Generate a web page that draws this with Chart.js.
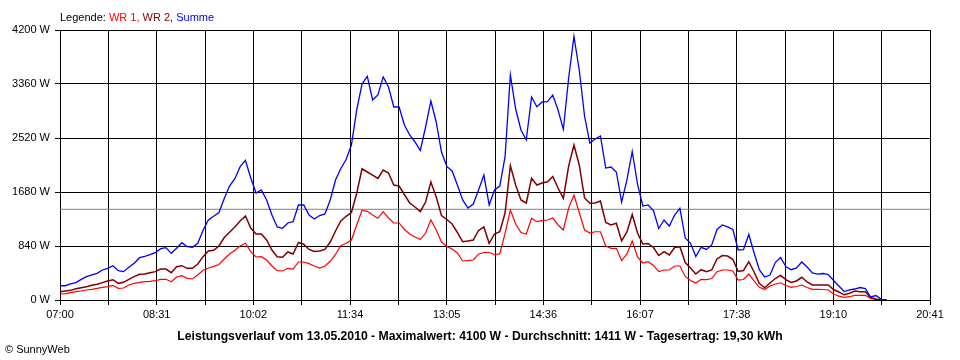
<!DOCTYPE html>
<html>
<head>
<meta charset="utf-8">
<script src="https://cdn.jsdelivr.net/npm/chart.js@4"></script>
<style>
body { margin: 0; background: #fff; }
#wrap { position: relative; width: 960px; height: 360px; font-family: "Liberation Sans", Arial, sans-serif; color: #000; }
#chart { position: absolute; left: 0; top: 0; }
.leg { position: absolute; left: 60px; top: 11px; font-size: 11px; line-height: 13px; }
.tit { position: absolute; left: 0; width: 960px; top: 329px; text-align: center; font-size: 12.2px; font-weight: bold; line-height: 14px; }
.copy { position: absolute; left: 5px; top: 343px; font-size: 11px; line-height: 13px; }
</style>
</head>
<body>
<div id="wrap">
  <canvas id="chart" width="960" height="360"></canvas>
  <div class="leg">Legende: <span style="color:#ff0000">WR 1,</span> <span style="color:#800000">WR 2,</span> <span style="color:#0000ff">Summe</span></div>
  <div class="tit">Leistungsverlauf vom 13.05.2010 - Maximalwert: 4100 W - Durchschnitt: 1411 W - Tagesertrag: 19,30 kWh</div>
  <div class="copy">&copy; SunnyWeb</div>
</div>
<script>
// Messzeitpunkte (5-Minuten-Raster)
var zeit = [
 "07:00","07:05","07:10","07:15","07:20","07:25","07:30","07:35","07:40","07:45","07:50","07:55",
 "08:00","08:05","08:10","08:15","08:20","08:25","08:30","08:35","08:40","08:45","08:50","08:55",
 "09:00","09:05","09:10","09:15","09:20","09:25","09:30","09:35","09:40","09:45","09:50","09:55",
 "10:00","10:05","10:10","10:15","10:20","10:25","10:30","10:35","10:40","10:45","10:50","10:55",
 "11:00","11:05","11:10","11:15","11:20","11:25","11:30","11:35","11:40","11:45","11:50","11:55",
 "12:00","12:05","12:10","12:15","12:20","12:25","12:30","12:35","12:40","12:45","12:50","12:55",
 "13:00","13:05","13:10","13:15","13:20","13:25","13:30","13:35","13:40","13:45","13:50","13:55",
 "14:00","14:05","14:10","14:15","14:20","14:25","14:30","14:35","14:40","14:45","14:50","14:55",
 "15:00","15:05","15:10","15:15","15:20","15:25","15:30","15:35","15:40","15:45","15:50","15:55",
 "16:00","16:05","16:10","16:15","16:20","16:25","16:30","16:35","16:40","16:45","16:50","16:55",
 "17:00","17:05","17:10","17:15","17:20","17:25","17:30","17:35","17:40","17:45","17:50","17:55",
 "18:00","18:05","18:10","18:15","18:20","18:25","18:30","18:35","18:40","18:45","18:50","18:55",
 "19:00","19:05","19:10","19:15","19:20","19:25","19:30","19:35","19:40","19:45","19:50","19:55",
 "20:00"];

// Leistung in W
var wr1 = [
 93,98,114,129,140,156,166,182,197,207,228,182,187,233,259,275,285,291,300,322,322,285,358,378,337,327,389,
 462,498,524,552,638,716,775,840,882,752,669,674,622,529,456,451,493,482,591,591,565,529,498,529,602,708,
 843,882,933,1167,1392,1380,1322,1271,1374,1276,1198,1198,1097,1027,980,941,1042,1244,1089,902,832,793,731,607,614,622,
 716,739,739,708,716,1037,1400,1182,1050,1027,1271,1218,1234,1244,1276,1167,1089,1431,1633,1361,1089,1042,1062,1062,840,804,804,
 614,716,918,669,576,596,537,443,467,467,529,529,366,303,264,322,316,334,440,467,467,451,311,319,404,296,
 198,163,218,249,268,226,198,210,233,194,166,166,163,156,93,59,42,51,73,73,73,26,11,0,0];

var wr2 = [
 129,140,150,176,192,207,228,244,270,296,316,259,275,321,363,399,404,425,441,482,482,425,518,534,493,493,560,
 674,762,773,840,972,1053,1136,1229,1307,1120,1027,1027,933,778,674,664,747,716,894,867,786,754,762,786,902,1073,
 1229,1302,1361,1660,2041,1991,1944,1890,2022,1976,1789,1773,1641,1509,1447,1377,1524,1836,1607,1314,1252,1182,1050,907,918,933,
 1081,1136,882,1027,1062,1353,2090,1789,1556,1509,1893,1789,1820,1840,1921,1742,1582,2084,2411,2100,1587,1504,1509,1540,1206,1167,1193,
 918,1058,1330,1042,871,879,817,692,751,700,817,829,583,498,404,471,440,467,638,692,684,630,443,459,596,436,
 257,191,264,334,384,316,272,296,353,280,233,233,233,233,163,124,81,104,140,129,129,39,16,0,0];

var summe = [
 222,222,249,270,321,363,389,415,467,493,534,456,441,508,571,658,680,705,736,798,814,726,804,891,829,819,882,
 1084,1244,1304,1361,1579,1773,1887,2074,2173,1898,1664,1711,1556,1322,1136,1115,1198,1218,1478,1478,1322,1260,1314,1338,1556,1867,
 2046,2186,2411,2956,3360,3480,3111,3189,3470,3313,3002,3002,2722,2567,2458,2326,2691,3096,2769,2302,2077,2007,1789,1556,1431,1493,
 1711,1944,1478,1711,1773,2229,3500,2971,2644,2489,3158,3007,3080,3085,3189,2956,2655,3453,4100,3578,2862,2442,2505,2551,2053,2069,1991,
 1524,1867,2310,1804,1462,1478,1392,1112,1244,1151,1322,1426,964,882,677,820,786,856,1097,1167,1136,1097,778,782,1019,731,
 467,358,389,583,661,521,471,498,591,513,420,404,412,397,303,218,132,156,171,194,179,47,70,11,0];

var durchschnitt = 1411;
var tickLabels = ["07:00","08:31","10:02","11:34","13:05","14:36","16:07","17:38","19:10","20:41"];

function toMin(s) {
  var p = s.split(":");
  return (+p[0]) * 60 + (+p[1]) - 7 * 60;
}

var xEnd = toMin(tickLabels[tickLabels.length - 1]);
var gridStep = xEnd / ((tickLabels.length - 1) * 2);
var gridPos = [];
for (var i = 0; i <= (tickLabels.length - 1) * 2; i++) gridPos.push(i * gridStep);

function series(vals) {
  return vals.map(function (v, i) { return { x: toMin(zeit[i]), y: v }; });
}

var tickFont = { family: "'Liberation Sans', Arial, sans-serif", size: 11 };

var chart = new Chart(document.getElementById("chart"), {
  type: "line",
  data: {
    datasets: [
      { label: "Summe", data: series(summe), borderColor: "#0000ff", borderWidth: 1.3 },
      { label: "WR 2", data: series(wr2), borderColor: "#800000", borderWidth: 1.5 },
      { label: "WR 1", data: series(wr1), borderColor: "#ff0000", borderWidth: 1.2 },
      { label: "Durchschnitt", data: [{ x: 0, y: durchschnitt }, { x: xEnd, y: durchschnitt }], borderColor: "#808080", borderWidth: 1 }
    ]
  },
  options: {
    responsive: false,
    animation: false,
    devicePixelRatio: 1,
    elements: { point: { radius: 0 }, line: { tension: 0, fill: false } },
    layout: { padding: { top: 30, right: 30, left: 0, bottom: 0 } },
    plugins: { legend: { display: false }, tooltip: { enabled: false } },
    scales: {
      x: {
        type: "linear",
        min: 0,
        max: xEnd,
        afterBuildTicks: function (s) { s.ticks = gridPos.map(function (v) { return { value: v }; }); },
        afterFit: function (s) { s.height = 60; },
        ticks: {
          autoSkip: false, maxRotation: 0, padding: 3, color: "#000", font: tickFont,
          callback: function (v, i) { return i % 2 === 0 ? tickLabels[i / 2] : ""; }
        },
        grid: { color: "#000", lineWidth: 1, tickLength: 5 },
        border: { color: "#000" }
      },
      y: {
        min: 0,
        max: 4200,
        afterFit: function (s) { s.width = 60; },
        ticks: {
          stepSize: 840, padding: 5, color: "#000", font: tickFont,
          callback: function (v) { return v + " W"; }
        },
        grid: { color: "#000", lineWidth: 1, tickLength: 5 },
        border: { color: "#000" }
      }
    }
  }
});
</script>
</body>
</html>
